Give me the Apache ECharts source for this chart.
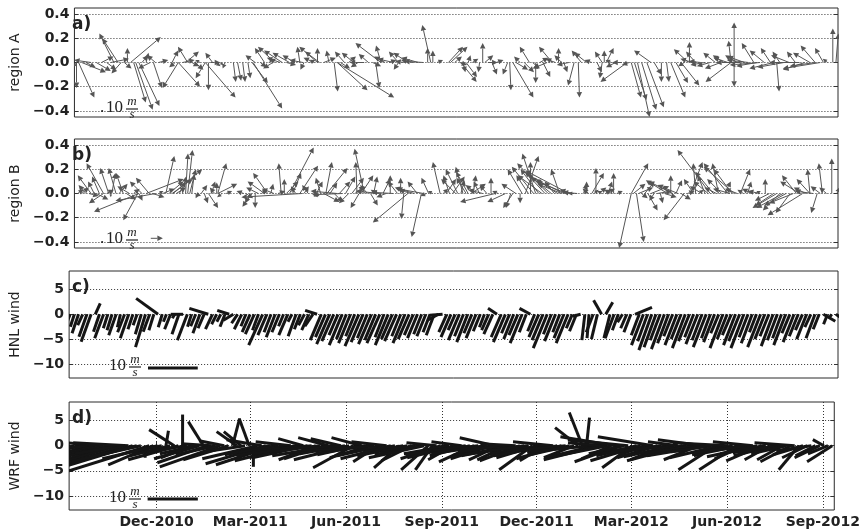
<!DOCTYPE html>
<html><head><meta charset="utf-8">
<script src="https://cdn.jsdelivr.net/npm/echarts@6/dist/echarts.min.js"></script>
<style>html,body{margin:0;padding:0;background:#fff}#c{width:863px;height:530px}</style>
</head><body><div id="c"></div>
<script>
// ---------- axis / tick data ----------
const startDate = '2010-09-01';            // day 0 of the x axis
const xMinDay = 7, xMaxDay = 742;
const tickDates = ['2010-12-01','2011-03-01','2011-06-01','2011-09-01','2011-12-01','2012-03-01','2012-06-01','2012-09-01'];
const tickLabels = ['Dec-2010','Mar-2011','Jun-2011','Sep-2011','Dec-2011','Mar-2012','Jun-2012','Sep-2012'];
const panelNames = ['region A','region B','HNL wind','WRF wind'];
const panelTags = ['a)','b)','c)','d)'];
const quiverTicks = [-0.4,-0.2,0,0.2,0.4];
const windTicks = [-10,-5,0,5];
const quiverRange = [-0.45,0.45];
const windRange = [-12.8,8.7];

// ---------- region A vectors: [day, u, v] ----------
const vecA = [
[9,0,-0.21],[9,-0.03,-0.04],[11,0.13,-0.29],[14,0.2,-0.08],[18,0.08,-0.04],[23,-0.14,0.02],[28,0.12,-0.07],[33,0.1,0.05],[38,0.08,-0.06],[42,0.15,0.03],
[45,-0.12,0.24],[49,-0.13,0.2],[52,-0.08,-0.09],[55,0.06,-0.05],[58,0,0.12],[61,0.25,0.21],[64,0.1,-0.33],[66,0.14,-0.39],[69,0.17,-0.36],[72,0.05,0.06],
[76,0.02,0.08],[80,-0.1,-0.05],[83,0.07,-0.21],[85,-0.07,0.06],[88,0.08,0.02],[101,0.05,0.1],[104,-0.05,-0.04],[107,-0.13,-0.21],[107,0.18,-0.2],[111,0.1,0.02],
[114,0.11,0.09],[116,-0.08,0.13],[120,0.06,-0.03],[123,0.07,-0.06],[128,-0.04,0.02],[133,-0.08,-0.13],[133,0.25,-0.29],[136,0,-0.23],[140,-0.06,0.08],[138,0.08,0],
[143,0.04,-0.03],[147,0.03,-0.02],[152,-0.02,-0.05],[160,0.02,-0.16],[164,0.03,-0.15],[169,0.02,-0.16],[174,0.02,-0.13],[178,0.13,-0.17],[179,0.24,-0.38],[181,-0.08,0.06],
[186,0.05,-0.04],[190,-0.08,0.12],[194,0.06,0.03],[198,-0.08,-0.05],[200,-0.14,0.13],[205,-0.11,0.04],[207,-0.15,0.1],[211,0.08,-0.02],[214,-0.14,0.08],[219,-0.1,0.06],
[224,-0.02,0.13],[227,-0.11,0.02],[228,-0.03,-0.06],[233,0.05,0.02],[238,-0.09,0.04],[241,-0.15,0.13],[241,0,0.12],[243,-0.12,0.09],[247,0.1,0.04],[252,-0.02,0.1],
[257,0.03,-0.24],[260,0.25,-0.23],[260,0.47,-0.29],[263,0.08,-0.05],[267,-0.08,0.09],[271,0.06,0.05],[276,-0.1,0.08],[280,-0.06,-0.04],[286,-0.12,0],[290,-0.08,0.07],
[294,0.07,-0.03],[297,0.03,-0.21],[302,-0.21,0.16],[302,-0.04,0.14],[306,-0.09,0.05],[310,0.06,0.02],[314,-0.13,0.03],[319,-0.08,0.09],[319,-0.04,-0.06],[324,-0.07,0.01],
[328,-0.12,0.08],[333,-0.1,0.02],[338,-0.14,0.04],[343,-0.16,0.01],[347,0,0.12],[350,-0.07,0.31],[352,0,0.1],[356,0.05,0.02],[367,0.12,0.13],[369,0.14,0.13],
[373,0.06,0.05],[378,0.06,-0.02],[379,0.13,-0.16],[381,0.02,-0.08],[384,0.09,-0.12],[386,0.02,0.06],[390,0.05,0.03],[397,-0.01,-0.08],[400,0,0.16],[402,0.07,0.06],
[405,0.08,0],[409,0.04,-0.1],[413,0.06,0.02],[424,-0.04,-0.1],[426,0.01,-0.23],[429,0.17,-0.29],[432,0.1,-0.06],[436,-0.05,0.05],[440,0.08,-0.08],[445,-0.08,0.13],
[448,0.06,-0.05],[451,0,-0.17],[455,0.07,0.04],[458,0.06,-0.12],[462,-0.12,-0.05],[467,-0.11,0.13],[470,-0.08,0.03],[473,0,0.12],[476,-0.06,0.06],[478,0.03,-0.08],
[483,-0.1,-0.02],[488,-0.05,-0.19],[492,0.01,-0.29],[495,-0.08,0.1],[500,-0.1,0.08],[505,-0.06,0.02],[510,0.04,-0.08],[515,-0.06,0.09],[515,-0.02,-0.13],[517,0,0.1],
[519,0.06,0.12],[524,-0.05,0.02],[528,-0.08,-0.04],[534,-0.08,0],[539,-0.22,-0.16],[541,-0.06,-0.02],[543,0.08,-0.29],[546,0.1,-0.31],[549,0.1,-0.45],[553,0.12,-0.39],
[558,0.14,-0.37],[562,-0.14,0.1],[565,0.06,-0.1],[572,0,-0.16],[577,0.02,-0.16],[581,0.12,-0.29],[586,0.1,-0.17],[591,0.15,-0.19],[594,-0.05,-0.03],[598,-0.12,0.11],
[599,0,0.17],[602,-0.1,0.03],[605,-0.08,0.09],[610,-0.1,0.01],[614,-0.12,-0.02],[619,-0.11,-0.03],[624,-0.1,0.08],[629,-0.13,-0.05],[632,-0.09,0.06],[636,-0.12,0.04],
[639,-0.21,-0.16],[639,-0.02,0.18],[642,0,0.33],[642,0,-0.2],[645,-0.1,0.06],[648,-0.2,0],[652,-0.14,0.05],[656,-0.18,0.02],[661,-0.1,0.16],[664,-0.17,-0.03],
[667,-0.25,-0.02],[671,-0.12,0.1],[677,-0.08,0.12],[680,-0.2,-0.05],[683,0.02,-0.24],[686,-0.06,0.09],[690,-0.22,-0.04],[695,-0.15,0.06],[701,-0.07,0.09],[705,-0.25,0],
[710,-0.18,-0.06],[715,-0.14,0.08],[720,-0.12,0.14],[720,-0.21,-0.03],[725,-0.31,-0.05],[728,-0.07,0.12],[732,-0.04,0.03],[737,0,0.28],[740,0.02,0.24]
];

// ---------- region B vectors: [day, u, v] ----------
const vecB = [
[10,0.05,0.03],[14,0.06,0.05],[18,-0.06,0.07],[21,0.08,-0.02],[23,-0.11,0.15],[26,-0.05,0.1],[28,0.1,-0.05],[31,-0.06,0.14],[35,-0.14,0.25],[35,-0.12,-0.08],
[38,0.06,0.03],[40,-0.07,0.21],[42,0,-0.03],[43,0.03,0.17],[47,-0.06,0.21],[50,0.07,0.08],[54,-0.06,0.17],[57,0.08,-0.05],[60,-0.1,0.06],[64,0.05,0.04],
[68,-0.12,-0.22],[69,-0.37,-0.15],[69,0.03,-0.06],[72,-0.1,0.1],[76,0.31,0.12],[79,-0.11,0.13],[82,0.1,-0.03],[85,-0.33,-0.06],[88,0.04,0.02],[92,0.1,0.04],
[95,0.07,0.31],[98,0.12,0.1],[101,0.17,0.12],[102,0.24,0.2],[105,0.08,0.05],[108,0.05,0.1],[111,0.03,0.14],[114,0.02,0.33],[116,0.04,0.36],[118,0.05,0.2],
[120,0.02,0.16],[123,0.05,-0.02],[126,-0.02,-0.04],[129,0.05,0.07],[132,0.03,-0.08],[136,0.08,-0.12],[139,0.03,0.1],[142,-0.04,0.05],[144,0,0.09],[145,0.07,0.25],
[145,0.16,0.08],[149,-0.04,-0.03],[153,0.05,0.02],[170,-0.06,0.02],[172,0.06,-0.04],[176,-0.04,-0.08],[178,-0.08,-0.11],[181,0,-0.12],[184,-0.1,0.05],[187,0.05,0.03],
[190,-0.14,0.1],[193,-0.12,0.17],[196,0.02,0.08],[199,-0.1,0.04],[203,0.06,0.02],[206,-0.02,0.25],[209,0,0.12],[211,0.1,0.1],[214,0.2,0.38],[217,0.07,0.17],
[220,-0.04,0.06],[224,0.15,0.23],[226,-0.5,-0.03],[228,0.04,0.06],[232,-0.05,0.07],[236,0.06,-0.02],[240,0.05,0.1],[244,-0.04,0.13],[247,0.13,-0.07],[249,0.05,0.26],
[250,0.17,0.21],[253,0.06,0.09],[257,0.07,-0.07],[260,-0.22,0.02],[262,0.09,0.1],[265,-0.25,-0.01],[268,0.08,0.14],[271,-0.08,-0.08],[274,0.1,0.13],[277,0.08,0.06],
[279,-0.01,0.26],[281,-0.07,-0.12],[283,0.1,0.15],[286,-0.08,0.37],[289,-0.06,0.07],[292,0.06,-0.1],[295,0.03,0.14],[298,-0.05,0.03],[301,-0.2,0.02],[304,0.06,0.12],
[307,-0.08,-0.03],[311,0,0.15],[314,-0.18,0.01],[318,-0.08,0.1],[321,0,0.13],[324,-0.02,-0.21],[328,-0.29,-0.24],[331,-0.1,0.03],[334,-0.16,0.05],[337,-0.08,0.1],
[341,-0.08,-0.36],[343,-0.22,0.04],[346,-0.05,-0.02],[348,-0.06,0.13],[352,-0.04,0.02],[359,-0.06,0.26],[362,0.04,0.04],[365,0.08,0.12],[368,-0.05,0.15],[371,0.1,0.14],
[374,-0.12,0.12],[376,-0.1,0.2],[379,0.03,0.11],[381,-0.06,0.22],[384,-0.08,0.13],[386,-0.1,0.18],[389,0.12,0.08],[391,0.02,0.15],[394,-0.09,0.07],[397,-0.05,0.1],
[400,-0.12,0.03],[404,-0.06,0.07],[408,0,0.13],[412,-0.29,-0.07],[415,-0.05,0.02],[422,-0.15,-0.07],[427,-0.04,-0.12],[429,-0.08,-0.12],[432,-0.12,0.08],[436,0,-0.08],
[438,-0.12,0.2],[441,0.11,0.31],[444,-0.1,0.15],[446,0,0.26],[449,-0.18,0.22],[451,-0.11,0.33],[454,-0.15,0.2],[457,-0.2,0.15],[460,-0.23,0.25],[463,-0.14,0.14],
[466,-0.22,0.18],[469,-0.08,0.1],[472,-0.18,0.12],[474,-0.07,0.2],[476,-0.2,0.08],[478,-0.3,0.15],[481,-0.25,0.1],[483,-0.36,0.19],[486,-0.1,0.03],[488,-0.05,0],
[491,-0.12,0.01],[497,0.03,0.08],[500,0,0.1],[502,-0.05,0.04],[505,0.1,0.17],[507,0.04,0.03],[509,0,0.21],[512,0.06,0.05],[515,-0.04,0.02],[518,0.08,0.04],
[521,0.03,0.1],[524,-0.06,0.03],[526,0,0.17],[529,0.05,0.02],[543,0.14,0.25],[543,-0.1,-0.45],[545,0.1,0.08],[548,0.06,-0.4],[550,0.12,0.05],[553,0.05,-0.04],
[556,0.08,0.1],[559,0.08,-0.14],[562,0.15,0.06],[565,-0.04,-0.06],[568,0.12,0.02],[571,0.02,-0.08],[575,0.1,-0.03],[578,-0.18,0.11],[581,0,0.15],[583,-0.2,0.1],
[586,0.05,0.11],[588,-0.17,0.07],[591,0.08,-0.05],[594,-0.17,-0.22],[597,0.06,0.02],[600,0.1,0.26],[603,-0.08,0.12],[605,-0.02,0.25],[608,0.04,0.03],[611,-0.1,0.06],
[614,-0.06,0.15],[617,-0.12,0.1],[619,-0.27,0.36],[622,-0.15,0.18],[625,-0.1,0.05],[627,-0.05,0.25],[630,-0.12,0.12],[633,0.05,0.1],[636,-0.2,0.25],[638,-0.14,0.04],
[640,-0.15,0.2],[642,-0.25,0.22],[645,-0.1,0.04],[648,0.08,0.2],[651,-0.05,0.03],[655,0.03,0.1],[659,-0.08,0.04],[663,0.04,0.02],[667,-0.1,0.02],[672,0,0.12],
[676,-0.12,-0.06],[680,-0.15,-0.1],[683,-0.2,-0.12],[686,-0.14,-0.14],[689,-0.22,-0.12],[692,-0.18,-0.1],[696,-0.12,-0.16],[699,-0.2,-0.08],[702,-0.12,0.15],[705,-0.16,0.1],
[708,-0.29,-0.18],[711,-0.1,0.05],[715,-0.11,0.12],[715,-0.02,0.2],[718,-0.15,0.02],[722,-0.05,-0.16],[725,-0.08,0.06],[727,-0.03,0.25],[731,-0.06,0.05],[736,0,0.29],
[741,0.02,0.05]
];
const keyB = [[80.5,-0.37,0.1,0]];   // [day, y, u, v] of the 10 m/s key arrow

// ---------- wind sticks (sampled every windStepDays from windStartDay) ----------
const windStartDay = 8, windStepDays = 4;
const uC = [
-1.2,-0.8,-1.3,-1,-1.6,-2,1,-1.2,-1.8,-0.9,
-1,-1.5,-0.6,-1.4,-1.7,-1,-0.8,-1.2,-2,-1.3,
-1,-4.4,-0.8,-0.6,-1.2,-0.5,-1.4,-2.5,-2,-0.8,
-1,-1.4,-1.2,-3.8,-1.4,-1,-0.8,-1,-2.4,-2,
-1.2,-1.5,-1,-1.6,-1.8,-1.2,-2.8,-1.8,-1.4,-1.8,
-1.5,-1,-1.8,-0.8,-1.6,-1.2,-1.2,-1.4,-1.6,-2.4,
-2.2,-2,-2.6,-2.4,-1.8,-2.6,-2,-2.4,-1.8,-2.8,
-2.4,-2,-2.6,-2.2,-2.6,-1.8,-2.6,-2.2,-2.4,-1.8,
-2.4,-2.2,-1.8,-2,-1.6,-1.8,-1.4,-1.6,-2.2,-2.6,
-1.6,-2,-1.4,-2.2,-1.8,-2.2,-1.6,-2,-1.4,-1,
-1.4,-1.8,-1.8,-2,-2.4,-1.6,-2,-1.8,-2.4,-1.4,
-2.2,-1.4,-2,-2.2,-2.8,-1.6,-2.2,-1.4,-2,-2.4,
-1.2,-1.4,-1.6,-0.6,-0.4,-1.4,-1.2,-1.6,1.4,-1.2,
-1.8,-1.2,-1,-1.2,-1.4,3.4,-1.6,-2.4,-2,-2.6,
-2.4,-2,-2.6,-2.2,-1.8,-2.4,-2,-2.6,-2.2,-1.8,
-2.4,-2,-2.6,-1.8,-2.2,-1.6,-2.6,-2,-1.8,-2.4,
-2.2,-2.6,-1.8,-2.2,-1.4,-2.6,-2,-1.8,-2.4,-2,
-1.8,-2.4,-1.6,-2.2,-1.8,-1.4,-2,-1.2,-1.8,-1.2,
2.4,-0.8,-0.6,1.8
];
const vC = [
-3,-2.5,-3.8,-2.2,-4.5,-5.5,2.2,-3.5,-4.8,-2.8,
-3.2,-4.2,-2.6,-3.6,-4.8,-3,-2.2,-4,-6.6,-3.5,
-3.2,3.2,-2.6,-1.5,-3,-0.8,-4,0,-5.2,-2.5,
-2.4,-3.8,-2.8,1.2,-3,-2,-1.5,-2.5,0.8,-1.2,
-1.8,-3,-2.4,-3.6,-4,-3.2,-6.2,-4.2,-3.6,-4.6,
-3.6,-2.4,-4.2,-1.5,-4.4,-3,-2.2,-3.2,-2.4,0.8,
-5.2,-4.6,-6,-5.4,-4.2,-6.2,-5,-5.8,-4.4,-6.4,
-5.6,-4.8,-6,-5.2,-5.8,-4.6,-6.2,-5,-5.4,-4.4,
-5.8,-5,-4.2,-4.8,-4,-4.4,-3.6,-4.2,-1.2,-0.2,
-3.6,-4.6,-3.2,-5.2,-4.4,-5.6,-3.8,-4.8,-3.4,-2.6,
-3.2,-4,1.2,-4.6,-5.6,-3.8,-5,-4.2,-5.8,-3.6,
1.2,-3.4,-4.6,-5.2,-6.8,-4,-5.4,-3.6,-4.8,-5.8,
-2.8,-3.4,-0.4,-5.2,-4.8,-3.6,-5,2.8,2.4,-4.8,
-4.8,-3.2,-1.6,-2.8,-3.6,1.4,-4.2,-6.2,-5.4,-7.2,
-6.6,-5.2,-7,-5.8,-4.4,-6.2,-5,-6.8,-5.4,-4.6,
-6,-5.2,-6.6,-4.8,-5.6,-3.8,-6.8,-5,-4.2,-6.2,
-5.4,-6.8,-4.6,-5.8,-3.6,-6.6,-5,-4.4,-6.4,-5.2,
-4.8,-6.2,-3.8,-5.6,-4.4,-3.2,-5,-2.6,-4.8,-3,
-1.4,-2,-0.8,-1.2
];
const uD = [
-5,-6,-8,-7,-9,-8,-10,-9,-8,-9,
-10,-12,-9,-14,-11,-15,-13,-10,0,-16,
-9,-11,-7,0.5,-8,-5,-10,0,-8,-6,
-7,-9,-3,-10,-6,-8,-12,-5,-9,1.4,
-4,-3.4,-8,-2,0,-11,-7,-12,-9,-11.6,
-8,-6.6,-10,-7,-12,-9,-5,-11,-8,-7.4,
-10,-8,-6,-12,-7,-6,-9,-11,-8,-8,
-6,-10,-8,-12,-5,-9,-7,-10,-6,-5,
-8,-10,-6,-7,-9,-11,-5.4,-3.4,-6,-8,
-7,-9,-5,-10,-6,-12,-8,-7,-9,-6,
-11,-8,-7,-6,-9,-6,-10,-7,-8,-12,
-9,-6.6,-8,-10,-5,-11,-8,-6,-9,-10,
-8,-6,-4.6,-2.6,0.6,-12,-9,-11,-7,-10,
-6,-11,-9,-7,-12,-6,-8,-10,-5,-9,
-11,-8,-12,-7,-9,-10,-6,-11,-8,-9,
-10,-7,-9,-12,-8,-7.4,-10,-6,-11,-8,
-7.4,-9,-6,-11,-8,-10,-7,-9,-5,-8,
-9,-5,-7,-6,-8,-4,-6,-5,-7,-4,
-5,-2.2,-4,-5
];
const vD = [
-1.4,-2,-2.6,-1.2,-3,-0.6,-2.8,0.8,-2,-2.4,
-3,-3.8,-1.6,-4.4,0.6,-4.6,-3.2,-2.2,-2.4,-5,
-3.8,-2.6,-1.4,3,-2,3.2,-2.8,6.2,-1.2,-2.4,
-1.6,-2.6,4.8,-3.4,0.4,-1.8,-4.2,1,-2.8,5.4,
2.8,2.8,-1.2,5.4,-4.2,-2.6,1.2,-3.6,-1.8,-3.8,
-1.4,-2.4,-2,0.8,-3,-1.6,1.4,-2.4,-0.8,-2.8,
-1.2,-2.6,1.6,-2,-1,1.4,-1.6,-2.8,-4.4,-1.8,
1.6,-1.6,-2.4,-1,-3.2,-2,0.8,-2.6,-1.2,-4.4,
-1.4,-2,-3,-1.2,-1.8,-2.4,-4.8,-4.8,0.6,-2.6,
-2.2,-1.6,-2.8,-2.4,0.8,-1.8,-2,-3.2,-1,-2,
-1.6,-2.6,1.6,-2.8,-1.2,-2.8,-2,0.4,-3,-1.8,
-1.2,-4.8,-2.4,-1.6,-3,-2,0.8,-1.4,-2.6,-1,
-1.8,-2.4,3.6,6.6,5.6,-1.2,-2.2,-2.8,0.6,-2,
-2.6,1.8,-3.2,-1.6,1.2,-4.4,-2,-3,-1.8,-1.2,
1.8,-2.4,-1.6,-2.8,-1,-2.2,0.8,-3,-1.4,-2,
-1.6,-2.8,1.2,-2,-1.2,-4.8,-2.4,-2,0.6,-1.8,
-4.8,-1.8,-2.6,-1.4,0.8,-2.2,-3,-1.6,-2.8,-2,
-1.4,-2.8,-1.6,-3.2,0.6,-4.8,-1.8,-2.4,-1,-2,
-2.4,1.2,-1.6,-3.2
];
const keyC = [[82.4,-10.8,10,0]];  // 10 m/s key stick
const keyD = [[82.4,-10.6,10,0]];

// ---------- helpers ----------
const DAY = 86400000;
function dayOf(s){ return Math.round((Date.parse(s) - Date.parse(startDate)) / DAY); }
const tickDays = tickDates.map(dayOf);
const FONT = 'DejaVu Sans';
const INK = '#222';

const gridBoxes = [
  {top: 8, height: 109},
  {top: 139, height: 109},
  {top: 271, height: 107},
  {top: 402, height: 108}
];

function fmtSigned(v, dec){
  const s = dec ? Math.abs(v).toFixed(dec) : String(Math.abs(v));
  return (v < 0 ? '\u2212' : '') + s;
}

function quiverRender(params, api){
  const p0 = api.coord([api.value(0), api.value(1)]);
  const k = api.size([0, 1])[1];
  const dx = api.value(2) * k, dy = -api.value(3) * k;
  const len = Math.hypot(dx, dy);
  if (len < 0.8) return null;
  const ux = dx / len, uy = dy / len;
  const hl = Math.min(5.5, len * 0.7), hw = hl * 0.5;
  const tip = [p0[0] + dx, p0[1] + dy];
  const b = [tip[0] - ux * hl, tip[1] - uy * hl];
  const col = '#555';
  return {type: 'group', children: [
    {type: 'line', shape: {x1: p0[0], y1: p0[1], x2: b[0], y2: b[1]}, style: {stroke: col, lineWidth: 1}},
    {type: 'polygon', shape: {points: [tip, [b[0] - uy * hw, b[1] + ux * hw], [b[0] + uy * hw, b[1] - ux * hw]]}, style: {fill: col}}
  ]};
}
function stickRender(params, api){
  const p0 = api.coord([api.value(0), api.value(1)]);
  const k = api.size([0, 1])[1];
  return {type: 'line', shape: {x1: p0[0], y1: p0[1], x2: p0[0] + api.value(2) * k, y2: p0[1] - api.value(3) * k},
          style: {stroke: '#151515', lineWidth: 3, lineCap: 'butt'}};
}

const grid = gridBoxes.map(g => ({left: 68, right: 25, top: g.top, height: g.height,
  show: true, borderColor: '#2a2a2a', borderWidth: 1, backgroundColor: 'transparent'}));

const xAxis = gridBoxes.map((g, i) => ({
  type: 'value', gridIndex: i, min: xMinDay, max: xMaxDay,
  axisLine: {show: false},
  axisTick: {show: i === 3, inside: true, length: 4, customValues: tickDays, lineStyle: {color: '#333'}},
  axisLabel: {show: i === 3, customValues: tickDays, margin: 5,
    formatter: v => { const j = tickDays.indexOf(Math.round(v)); return j >= 0 ? tickLabels[j] : ''; },
    fontFamily: FONT, fontWeight: 'bold', fontSize: 14, color: INK},
  splitLine: {show: i === 3, lineStyle: {type: [1, 2], color: '#333', width: 1}}
}));

const yAxis = [];
gridBoxes.forEach((g, i) => {
  const q = i < 2;
  const ticks = q ? quiverTicks : windTicks;
  const rng = q ? quiverRange : windRange;
  yAxis.push({
    type: 'value', gridIndex: i, min: rng[0], max: rng[1],
    name: panelNames[i], nameLocation: 'middle', nameGap: 46,
    nameTextStyle: {fontFamily: FONT, fontSize: 14, color: INK},
    axisLine: {show: false},
    axisTick: {show: true, inside: true, length: 4, customValues: ticks, lineStyle: {color: '#333'}},
    axisLabel: {customValues: ticks, margin: 5, formatter: v => fmtSigned(v, q ? 1 : 0),
      fontFamily: FONT, fontWeight: 'bold', fontSize: 14, color: INK},
    splitLine: {show: true, lineStyle: {type: [1, 2], color: '#333', width: 1}}
  });
});
gridBoxes.forEach((g, i) => {
  const q = i < 2;
  const ticks = q ? quiverTicks : windTicks;
  const rng = q ? quiverRange : windRange;
  yAxis.push({
    type: 'value', gridIndex: i, position: 'right', min: rng[0], max: rng[1],
    axisLine: {show: false}, axisLabel: {show: false}, splitLine: {show: false},
    axisTick: {show: true, inside: true, length: 4, customValues: ticks, lineStyle: {color: '#333'}}
  });
});

const toQ = arr => arr.map(d => [d[0], 0, d[1], d[2]]);
const toW = (us, vs) => us.map((u, i) => [windStartDay + windStepDays * i, 0, u, vs[i]]);

const series = [
  {type: 'custom', xAxisIndex: 0, yAxisIndex: 0, clip: true, silent: true, renderItem: quiverRender, data: toQ(vecA), z: 3},
  {type: 'custom', xAxisIndex: 1, yAxisIndex: 1, clip: true, silent: true, renderItem: quiverRender, data: toQ(vecB), z: 3},
  {type: 'custom', xAxisIndex: 1, yAxisIndex: 1, clip: true, silent: true, renderItem: quiverRender, data: keyB, z: 4},
  {type: 'custom', xAxisIndex: 2, yAxisIndex: 2, clip: true, silent: true, renderItem: stickRender, data: toW(uC, vC), z: 3},
  {type: 'custom', xAxisIndex: 2, yAxisIndex: 2, clip: true, silent: true, renderItem: stickRender, data: keyC, z: 4},
  {type: 'custom', xAxisIndex: 3, yAxisIndex: 3, clip: true, silent: true, renderItem: stickRender, data: toW(uD, vD), z: 3},
  {type: 'custom', xAxisIndex: 3, yAxisIndex: 3, clip: true, silent: true, renderItem: stickRender, data: keyD, z: 4}
];

// panel tags and the "10 m/s" key texts
const graphic = [];
gridBoxes.forEach((g, i) => {
  graphic.push({type: 'text', left: 72, top: g.top + 8, z: 10,
    style: {text: panelTags[i], font: 'bold 17px "DejaVu Sans"', fill: INK}});
  const bottom = g.top + g.height;
  const q = i < 2;
  const cy = q ? bottom - 9 : bottom - 12;
  const x10 = q ? 106 : 109;
  const serif = '"Liberation Serif","DejaVu Serif",serif';
  if (q) graphic.push({type: 'text', x: 100, y: cy, z: 10, style: {text: '.', font: '17px ' + serif, fill: INK, verticalAlign: 'middle'}});
  graphic.push({type: 'text', x: x10, y: cy, z: 10, style: {text: '10', font: '17px ' + serif, fill: INK, verticalAlign: 'middle'}});
  graphic.push({type: 'text', x: x10 + 26, y: cy - 6, z: 10, style: {text: 'm', font: 'italic 13px ' + serif, fill: INK, align: 'center', verticalAlign: 'middle'}});
  graphic.push({type: 'line', z: 10, shape: {x1: x10 + 20, y1: cy + 1, x2: x10 + 32, y2: cy + 1}, style: {stroke: INK, lineWidth: 1.2}});
  graphic.push({type: 'text', x: x10 + 26, y: cy + 7, z: 10, style: {text: 's', font: 'italic 13px ' + serif, fill: INK, align: 'center', verticalAlign: 'middle'}});
});

const chart = echarts.init(document.getElementById('c'), null, {renderer: 'canvas'});
chart.setOption({animation: false, backgroundColor: '#fff', grid, xAxis, yAxis, series, graphic});
</script></body></html>
